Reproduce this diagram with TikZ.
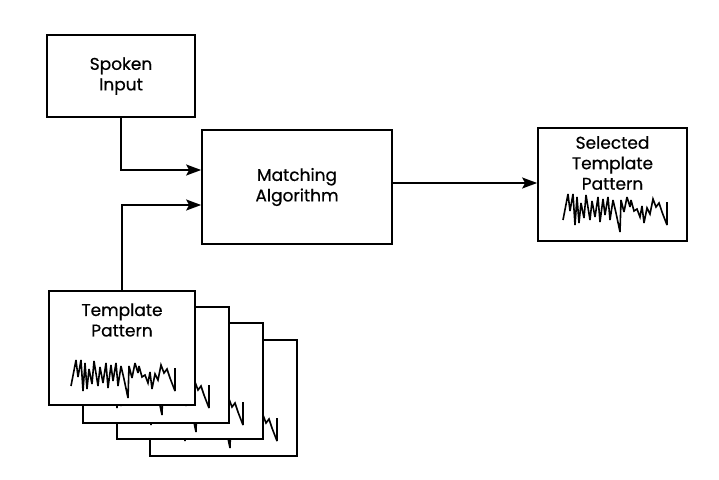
\documentclass[tikz,border=0pt]{standalone}
\usepackage{fontspec}
\setmainfont{Poppins}[FakeBold=0.5]
\usetikzlibrary{arrows.meta}
% jagged waveform sketch, drawn relative to a shifted origin
\newcommand{\jaggedwave}[2]{%
  \draw[wave, shift={(#1,#2)}]
    (6,31) -- (11,5) -- (13,22) -- (16,5) -- (18,36) -- (20,8) -- (22,34)
    -- (24,14) -- (27,29) -- (29,6) -- (33,31) -- (35,12) -- (38,28) -- (41,8)
    -- (43,33) -- (46,10) -- (48,26) -- (51,8) -- (53,31) -- (56,11) -- (59,24)
    -- (63,43) -- (64,11) -- (67,23) -- (70,8) -- (73,18) -- (74,11) -- (77,22)
    -- (80,20) -- (83,28) -- (85,17) -- (87,34) -- (90,19) -- (93,25) -- (96,10)
    -- (99,18) -- (102,14) -- (105,23) -- (110,36) -- (110,13);}
\tikzset{
  box/.style={draw, line width=1.7pt, fill=white, inner sep=0pt},
  lbl/.style={align=center, font=\fontsize{17}{20.5}\selectfont},
  wave/.style={line width=1.6pt, line join=miter, miter limit=4},
  flow/.style={line width=1.7pt, -{Stealth[length=15pt,width=11pt,inset=3pt]}},
}
\begin{document}
\begin{tikzpicture}[x=1pt,y=-1pt]
  \path[use as bounding box, fill=white] (0,0) rectangle (719,479);

  % stacked template patterns, back to front
  \node[box, minimum width=147pt, minimum height=116pt] (tp4) at (223.5,398) {};
  \jaggedwave{167}{405}
  \node[box, minimum width=146pt, minimum height=116pt] (tp3) at (190,381) {};
  \jaggedwave{133}{389}
  \node[box, minimum width=146pt, minimum height=116pt] (tp2) at (156,365) {};
  \jaggedwave{99}{372}
  \node[box, minimum width=146pt, minimum height=114pt] (tp1) at (122,348) {};
  \jaggedwave{65}{355}
  \node[lbl] (tpl) at (122,320) {Template\\Pattern};

  % processing chain
  \node[box, lbl, minimum width=148pt, minimum height=82pt] (spoken) at (121,76) {Spoken\\Input};
  \node[box, lbl, minimum width=190pt, minimum height=114pt] (match) at (297,187) {Matching\\Algorithm};
  \node[box, minimum width=149pt, minimum height=113pt] (sel) at (612.5,184.5) {};
  \node[lbl] (sell) at (612.5,163) {Selected\\Template\\Pattern};
  \jaggedwave{557}{189}

  \draw[flow] (spoken.south) |- (match.west |- 0,170);
  \draw[flow] (tp1.north) |- (match.west |- 0,205);
  \draw[flow] (match.east |- 0,183) -- (sel.west |- 0,183);
\end{tikzpicture}
\end{document}
